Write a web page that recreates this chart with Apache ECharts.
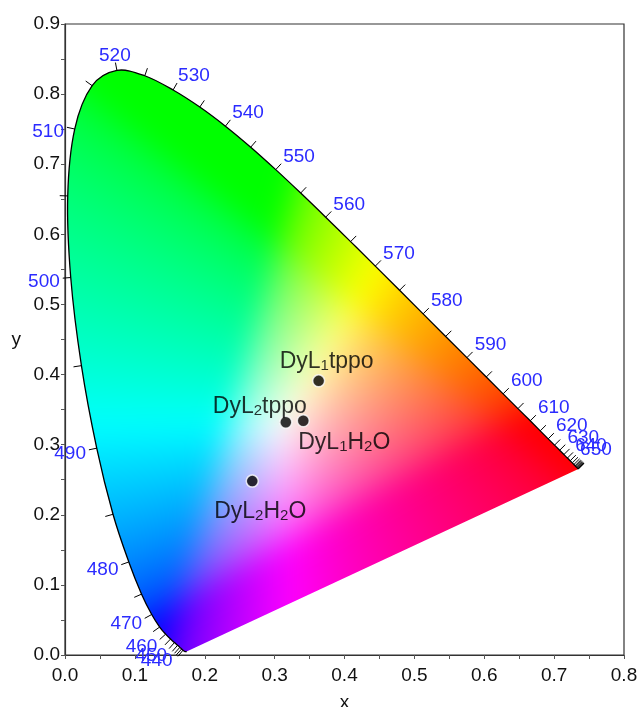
<!DOCTYPE html>
<html><head><meta charset="utf-8">
<script src="https://cdn.jsdelivr.net/npm/echarts@6/dist/echarts.min.js"></script>
<style>html,body{margin:0;padding:0;background:#fff}#c{width:638px;height:707px}</style>
</head><body><div id="c"></div>
<script>
// ---- Data ----
const wavelengths = [380,385,390,395,400,405,410,415,420,425,430,435,440,445,450,455,460,465,470,475,480,485,490,495,500,505,510,515,520,525,530,535,540,545,550,555,560,565,570,575,580,585,590,595,600,605,610,615,620,625,630,635,640,645,650,655,660,665,670,675,680,685,690,695,700];
const locusX = [0.1741,0.1740,0.1738,0.1736,0.1733,0.1730,0.1726,0.1721,0.1714,0.1703,0.1689,0.1669,0.1644,0.1611,0.1566,0.1510,0.1440,0.1355,0.1241,0.1096,0.0913,0.0687,0.0454,0.0235,0.0082,0.0039,0.0139,0.0389,0.0743,0.1142,0.1547,0.1929,0.2296,0.2658,0.3016,0.3373,0.3731,0.4087,0.4441,0.4788,0.5125,0.5448,0.5752,0.6029,0.6270,0.6482,0.6658,0.6801,0.6915,0.7006,0.7079,0.7140,0.7190,0.7230,0.7260,0.7283,0.7300,0.7311,0.7320,0.7327,0.7334,0.7340,0.7344,0.7346,0.7347];
const locusY = [0.0050,0.0050,0.0049,0.0049,0.0048,0.0048,0.0048,0.0048,0.0051,0.0058,0.0069,0.0086,0.0109,0.0138,0.0177,0.0227,0.0297,0.0399,0.0578,0.0868,0.1327,0.2007,0.2950,0.4127,0.5384,0.6548,0.7502,0.8120,0.8338,0.8262,0.8059,0.7816,0.7543,0.7243,0.6923,0.6589,0.6245,0.5896,0.5547,0.5202,0.4866,0.4544,0.4242,0.3965,0.3725,0.3514,0.3340,0.3197,0.3083,0.2993,0.2920,0.2859,0.2809,0.2770,0.2740,0.2717,0.2700,0.2689,0.2680,0.2673,0.2666,0.2660,0.2656,0.2654,0.2653];
const tickFrom = 430;
const labeledWavelengths = [440,450,460,470,480,490,500,510,520,530,540,550,560,570,580,590,600,610,620,630,640,650];
const sampleNames = ['DyL{s|1}tppo','DyL{s|2}tppo','DyL{s|1}H{s|2}O','DyL{s|2}H{s|2}O'];
const sampleX = [0.363,0.316,0.341,0.268];
const sampleY = [0.391,0.332,0.334,0.248];
const xMin = 0, xMax = 0.8, xStep = 0.1;
const yMin = 0, yMax = 0.9, yStep = 0.1;

// ---- Styles / placement (not data) ----
const labelPlacement = [
  {position:'top', offset:[8,4]},
  {position:'top', offset:[-26,8]},
  {position:'bottom', offset:[41,-1]},
  {position:'bottom', offset:[8,7]}
];
const FONT = 'Liberation Sans, Arial, Helvetica, sans-serif';
const WL_FS = 19;
const BLUR = 14, PAD = 40;

function xyToRGB(x, y) {
  if (y < 1e-3) y = 1e-3;
  const X = x / y, Y = 1, Z = (1 - x - y) / y;
  let r = 3.2406 * X - 1.5372 * Y - 0.4986 * Z;
  let g = -0.9689 * X + 1.8758 * Y + 0.0415 * Z;
  let b = 0.0557 * X - 0.2040 * Y + 1.0570 * Z;
  r = Math.max(r, 0); g = Math.max(g, 0); b = Math.max(b, 0);
  const m = Math.max(r, g, b) || 1;
  const enc = v => { v = v / m; return v <= 0.0031308 ? 12.92 * v : 1.055 * Math.pow(v, 1 / 2.4) - 0.055; };
  return [enc(r) * 255, enc(g) * 255, enc(b) * 255];
}

// Catmull-Rom -> cubic bezier segments through pixel points
function crSegments(pts) {
  const n = pts.length, segs = [];
  for (let i = 0; i < n - 1; i++) {
    const p0 = pts[Math.max(i - 1, 0)], p1 = pts[i], p2 = pts[i + 1], p3 = pts[Math.min(i + 2, n - 1)];
    segs.push([p1[0] + (p2[0] - p0[0]) / 6, p1[1] + (p2[1] - p0[1]) / 6,
               p2[0] - (p3[0] - p1[0]) / 6, p2[1] - (p3[1] - p1[1]) / 6, p2[0], p2[1]]);
  }
  return segs;
}

let fillCanvas = null, fillKey = '';
function buildFill(api) {
  const p0 = api.coord([xMin, yMin]), p1 = api.coord([xMax, yMax]);
  const w = Math.round(p1[0] - p0[0]), h = Math.round(p0[1] - p1[1]);
  const key = w + 'x' + h;
  if (fillKey === key) return {c: fillCanvas, x: p0[0], y: p1[1], w, h};
  const W = w + 2 * PAD, H = h + 2 * PAD;
  const c1 = document.createElement('canvas'); c1.width = W; c1.height = H;
  const ctx1 = c1.getContext('2d');
  const img = ctx1.createImageData(W, H);
  for (let j = 0; j < H; j++) {
    const dy = yMax - (j - PAD + 0.5) / h * (yMax - yMin);
    for (let i = 0; i < W; i++) {
      const dx = xMin + (i - PAD + 0.5) / w * (xMax - xMin);
      const rgb = xyToRGB(dx, dy);
      const q = (j * W + i) * 4;
      img.data[q] = rgb[0]; img.data[q + 1] = rgb[1]; img.data[q + 2] = rgb[2]; img.data[q + 3] = 255;
    }
  }
  ctx1.putImageData(img, 0, 0);
  const c2 = document.createElement('canvas'); c2.width = w; c2.height = h;
  const ctx2 = c2.getContext('2d');
  const pts = locusX.map((x, i) => { const p = api.coord([x, locusY[i]]); return [p[0] - p0[0], p[1] - p1[1]]; });
  ctx2.beginPath();
  ctx2.moveTo(pts[0][0], pts[0][1]);
  crSegments(pts).forEach(s => ctx2.bezierCurveTo(s[0], s[1], s[2], s[3], s[4], s[5]));
  ctx2.closePath();
  ctx2.clip();
  ctx2.filter = 'blur(' + BLUR + 'px)';
  ctx2.drawImage(c1, -PAD, -PAD);
  ctx2.filter = 'none';
  fillCanvas = c2; fillKey = key;
  return {c: c2, x: p0[0], y: p1[1], w, h};
}

const tickData = [];
wavelengths.forEach((wl, i) => { if (wl >= tickFrom) tickData.push([locusX[i], locusY[i], wl, i]); });

const axisCommon = {
  type: 'value',
  nameLocation: 'middle',
  nameTextStyle: {fontSize: 19, color: '#111', fontFamily: FONT},
  axisLine: {show: true, onZero: false, lineStyle: {color: '#333', width: 1.2}},
  axisTick: {show: true, inside: false, length: 4, lineStyle: {color: '#555'}},
  minorTick: {show: true, splitNumber: 2, length: 4, lineStyle: {color: '#555'}},
  splitLine: {show: false}
};

const dz = (v, d, f) => Math.sign(v) * Math.min(1, Math.max(0, (Math.abs(v) - d) * f));

const chart = echarts.init(document.getElementById('c'));
chart.setOption({
  animation: false,
  backgroundColor: '#fff',
  textStyle: {fontFamily: FONT},
  grid: {left: 65, right: 14, top: 24, bottom: 52, outerBoundsMode: 'none', containLabel: false,
         show: true, borderColor: '#333', borderWidth: 1.2, backgroundColor: 'transparent'},
  xAxis: Object.assign({}, axisCommon, {
    min: xMin, max: xMax, interval: xStep, name: 'x', nameGap: 38,
    axisLabel: {fontSize: 19, color: '#111', margin: 11, fontFamily: FONT, formatter: v => v.toFixed(1)}
  }),
  yAxis: Object.assign({}, axisCommon, {
    min: yMin, max: yMax, interval: yStep, name: 'y', nameGap: 44, nameRotate: 0,
    axisLabel: {fontSize: 19, color: '#111', margin: 5, fontFamily: FONT, formatter: v => v.toFixed(1)}
  }),
  series: [
    {
      type: 'custom', coordinateSystem: 'cartesian2d', z: 1, silent: true,
      data: [[xMin, yMin]],
      renderItem: (params, api) => {
        const f = buildFill(api);
        const pts = locusX.map((x, i) => api.coord([x, locusY[i]]));
        let d = 'M' + pts[0][0].toFixed(2) + ' ' + pts[0][1].toFixed(2);
        crSegments(pts).forEach(s => { d += ' C' + s.map(v => v.toFixed(2)).join(' '); });
        return {type: 'group', children: [
          {type: 'image', style: {image: f.c, x: f.x, y: f.y, width: f.w, height: f.h}},
          {type: 'path', shape: {pathData: d}, style: {fill: null, stroke: '#000', lineWidth: 1.3}}
        ]};
      }
    },
    {
      type: 'custom', coordinateSystem: 'cartesian2d', z: 3, silent: true,
      data: tickData,
      renderItem: (params, api) => {
        const i = api.value(3), wl = api.value(2);
        const n = locusX.length;
        const p = api.coord([locusX[i], locusY[i]]);
        const a = api.coord([locusX[Math.max(i - 1, 0)], locusY[Math.max(i - 1, 0)]]);
        const b = api.coord([locusX[Math.min(i + 1, n - 1)], locusY[Math.min(i + 1, n - 1)]]);
        const tx = b[0] - a[0], ty = b[1] - a[1];
        const L = Math.hypot(tx, ty) || 1;
        const nx = ty / L, ny = -tx / L;
        const len = 8;
        const ex = p[0] + nx * len, ey = p[1] + ny * len;
        const children = [{type: 'line', shape: {x1: p[0], y1: p[1], x2: ex, y2: ey}, style: {stroke: '#000', lineWidth: 1}}];
        if (labeledWavelengths.indexOf(wl) >= 0) {
          const w = 3 * 0.556 * WL_FS, gh = 14;
          const ax = dz(nx, 0.2, 3.3), ay = dz(ny, 0.25, 2.5);
          const cx = ex + ax * w / 2 + nx * 3;
          const cy = ey + ay * gh / 2 + 4 * (1 - Math.abs(ay));
          children.push({type: 'text', style: {text: String(wl), x: cx, y: cy, align: 'center', verticalAlign: 'middle', fill: '#2b2bff', fontSize: WL_FS, fontFamily: FONT}});
        }
        return {type: 'group', children};
      }
    },
    {
      type: 'scatter', z: 4, silent: true,
      symbol: 'circle', symbolSize: 12,
      itemStyle: {color: '#000', borderColor: '#fff', borderWidth: 1.5},
      label: {
        show: true, formatter: p => p.name, fontSize: 23, color: '#000', fontFamily: FONT,
        rich: {s: {fontSize: 15, verticalAlign: 'bottom', lineHeight: 10, fontFamily: FONT, color: '#000'}}
      },
      data: sampleX.map((x, i) => ({value: [x, sampleY[i]], name: sampleNames[i], label: labelPlacement[i]}))
    }
  ]
});
</script>
</body></html>
